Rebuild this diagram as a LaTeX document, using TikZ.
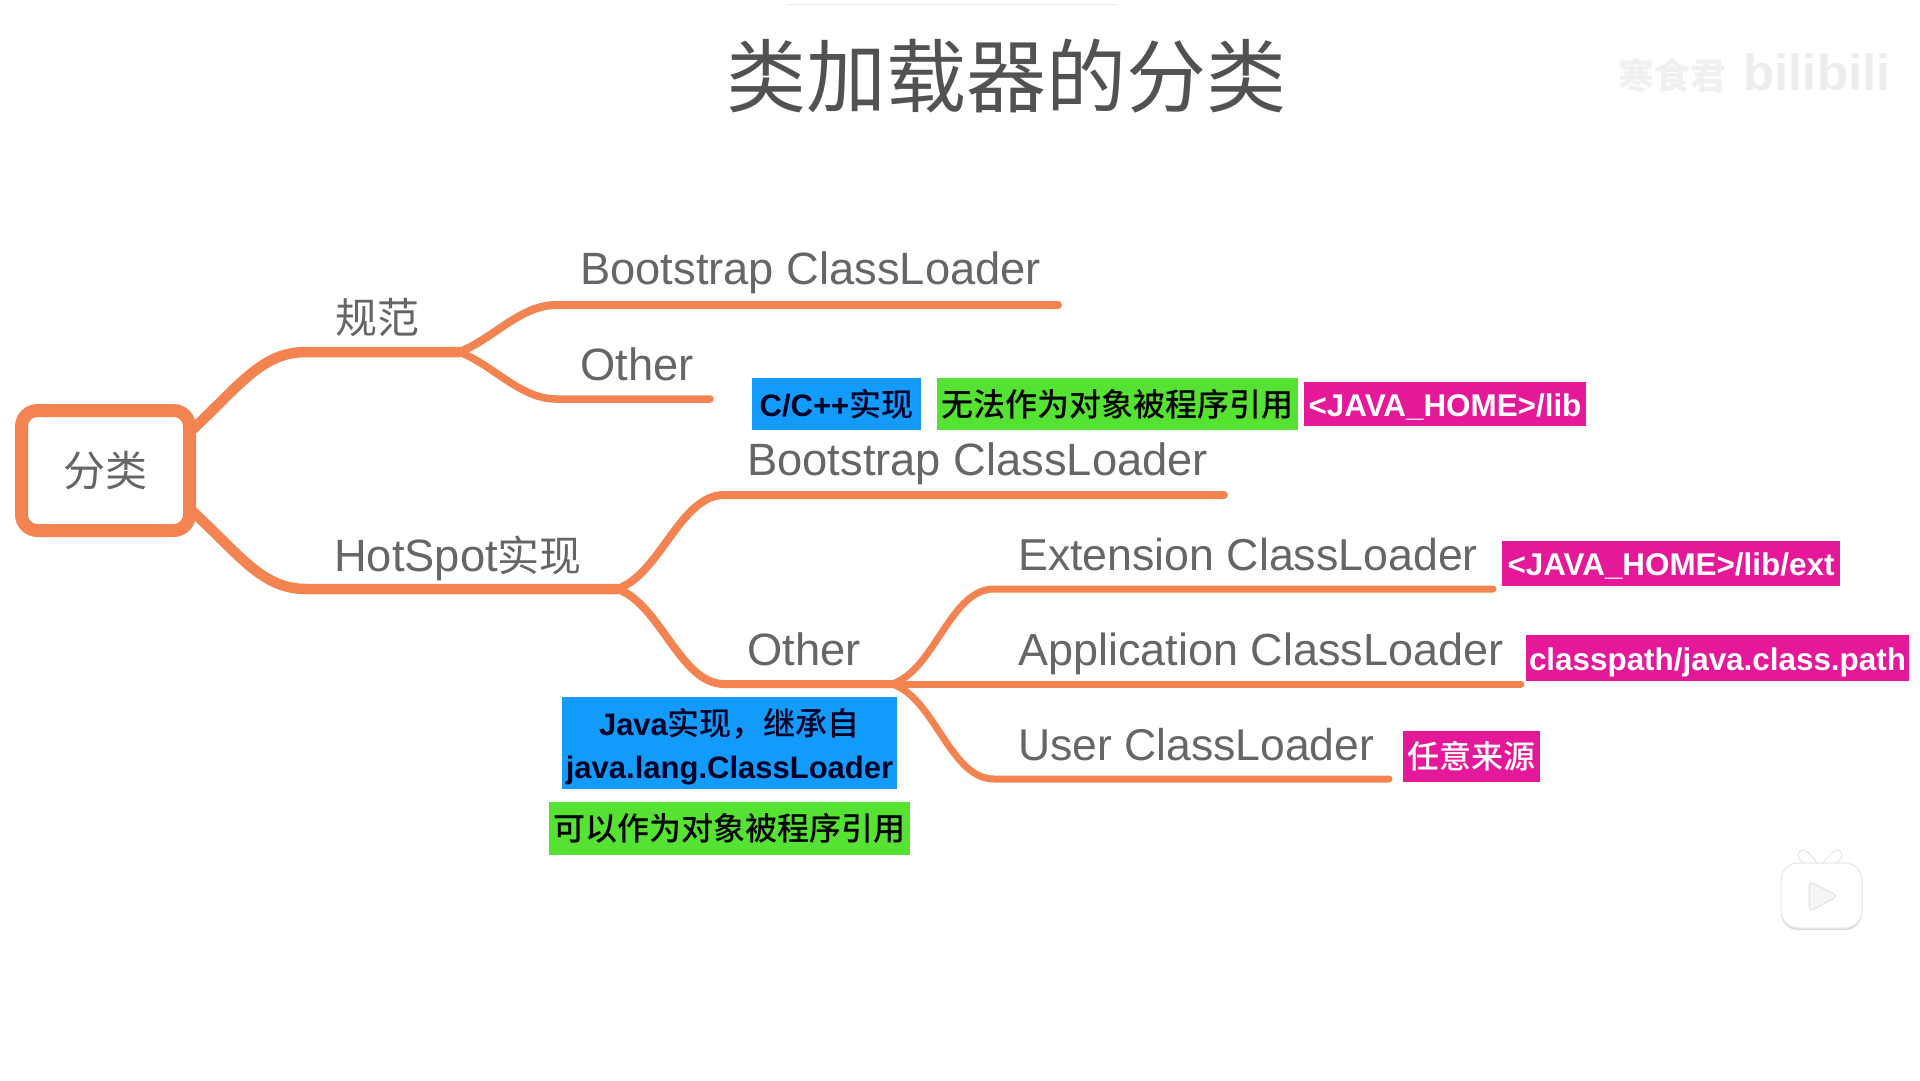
\documentclass[tikz,border=0pt]{standalone}
\usepackage{fontspec}
\setmainfont{Liberation Sans}
\newfontfamily\cjk{Noto Sans CJK SC}
\newfontfamily\cjkmed{Noto Sans CJK SC Medium}
\usetikzlibrary{shadows}
\newcommand{\cn}[1]{{\fontsize{32}{43}\selectfont\cjkmed\mdseries #1}}
\newcommand{\cnlabel}[1]{{\fontsize{42}{50}\selectfont\cjk #1}}
\definecolor{branchorange}{HTML}{F38452}
\definecolor{labelgray}{HTML}{666666}
\definecolor{tagblue}{HTML}{129BFA}
\definecolor{taggreen}{HTML}{55E232}
\definecolor{tagpink}{HTML}{E6189A}
\tikzset{
  branch/.style={draw=branchorange,line width=#1,line cap=round,line join=round},
  label/.style={anchor=base west,inner sep=0pt,text=labelgray,font=\fontsize{45.3}{50}\selectfont},
  tag/.style={inner sep=0pt,align=center,font=\fontsize{31}{43}\selectfont\bfseries},
  bluetag/.style={tag,fill=tagblue,text=black!85!blue},
  greentag/.style={tag,fill=taggreen,text=black},
  pinktag/.style={tag,fill=tagpink,text=white,font=\fontsize{31.4}{43}\selectfont\bfseries},
  lowtext/.style={text height=28pt,text depth=4pt},
}
\begin{document}
\begin{tikzpicture}[x=1pt,y=-1pt]
  \useasboundingbox (0,0) rectangle (1920,1080);
  % top bar and title
  \node (topbar) at (952,0) [minimum width=330pt,minimum height=8pt,inner sep=0pt,fill=white,drop shadow={opacity=0.15,shadow xshift=0pt,shadow yshift=-1pt}] {};
  \node (title) at (1006,76) [text=black!68,font=\fontsize{80}{90}\selectfont\cjk] {类加载器的分类};
  \node (author) at (1672,76) [text=black!6,font=\fontsize{36}{40}\selectfont\cjk\bfseries] {寒食君};
  \node (bili) at (1817,72) [text=black!7,font=\fontsize{51}{56}\selectfont\bfseries] {bilibili};
  % root
  \node (root) at (105.5,470.5) [draw=branchorange,line width=13pt,rounded corners=16pt,minimum width=168pt,minimum height=120pt,inner sep=0pt,text=labelgray,font=\fontsize{42}{48}\selectfont\cjk] {分类};
  \coordinate (rootUp) at (192,430);
  \coordinate (rootDown) at (192,511);
  \coordinate (spec) at (306,352);
  \coordinate (specFork) at (459,352);
  \coordinate (hot) at (306,589);
  \coordinate (hotFork) at (617,589);
  \coordinate (specBoot) at (556,305);
  \coordinate (specBootEnd) at (1058,305);
  \coordinate (specOther) at (556,399);
  \coordinate (specOtherEnd) at (710,399);
  \coordinate (hotBoot) at (724,495);
  \coordinate (hotBootEnd) at (1224,495);
  \coordinate (hotOther) at (724,684);
  \coordinate (otherFork) at (892,684);
  \coordinate (extLine) at (994,589);
  \coordinate (extEnd) at (1493,589);
  \coordinate (appEnd) at (1521,684);
  \coordinate (userLine) at (994,779);
  \coordinate (userEnd) at (1389,779);
  % branches
  \draw[branch=10.5pt] (rootUp) .. controls (240,385) and (262,352) .. (spec) -- (specFork);
  \draw[branch=10.5pt] (rootDown) .. controls (240,555) and (262,589) .. (hot) -- (hotFork);
  \draw[branch=8pt] (specFork) .. controls (492,340) and (520,305) .. (specBoot) -- (specBootEnd);
  \draw[branch=7.5pt] (specFork) .. controls (492,364) and (520,399) .. (specOther) -- (specOtherEnd);
  \draw[branch=8pt] (hotFork) .. controls (660,575) and (680,495) .. (hotBoot) -- (hotBootEnd);
  \draw[branch=8pt] (hotFork) .. controls (660,603) and (680,684) .. (hotOther) -- (otherFork);
  \draw[branch=7pt] (otherFork) .. controls (935,670) and (950,589) .. (extLine) -- (extEnd);
  \draw[branch=7pt] (otherFork) -- (appEnd);
  \draw[branch=7pt] (otherFork) .. controls (935,698) and (950,779) .. (userLine) -- (userEnd);
  % labels
  \node (specLabel) at (335,333) [label] {\cnlabel{规范}};
  \node (hotLabel) at (334,571) [label] {HotSpot\cnlabel{实现}};
  \node (bootA) at (580,284) [label] {Bootstrap ClassLoader};
  \node (otherA) at (580,380) [label] {Other};
  \node (bootB) at (747,475) [label] {Bootstrap ClassLoader};
  \node (otherB) at (747,665) [label] {Other};
  \node (extLabel) at (1018,570) [label,font=\fontsize{44.7}{50}\selectfont] {Extension ClassLoader};
  \node (appLabel) at (1018,665) [label,font=\fontsize{45}{50}\selectfont] {Application ClassLoader};
  \node (userLabel) at (1018,760) [label,font=\fontsize{44.5}{50}\selectfont] {User ClassLoader};
  % tags
  \node (cTag) at (836.5,404) [bluetag,lowtext,minimum width=169pt,minimum height=52pt] {C/C++\cn{实现}};
  \node (noRef) at (1117.5,404) [greentag,lowtext,minimum width=361pt,minimum height=52pt] {\cn{无法作为对象被程序引用}};
  \node (libTag) at (1445,404) [pinktag,lowtext,minimum width=282pt,minimum height=44pt] {<JAVA\_HOME>/lib};
  \node (extTag) at (1671,563) [pinktag,lowtext,minimum width=338pt,minimum height=45pt] {<JAVA\_HOME>/lib/ext};
  \node (pathTag) at (1717.5,658) [pinktag,lowtext,minimum width=383pt,minimum height=46pt] {classpath/java.class.path};
  \node (anyTag) at (1471.5,756.5) [pinktag,lowtext,minimum width=137pt,minimum height=51pt] {\cn{任意来源}};
  \node (javaTag) at (729.5,743) [bluetag,minimum width=335pt,minimum height=92pt] {\rule{0pt}{34pt}Java\cn{实现，继承自}\\java.lang.ClassLoader};
  \node (canRef) at (729.5,828.5) [greentag,lowtext,minimum width=361pt,minimum height=53pt] {\cn{可以作为对象被程序引用}};
  % play button
  \draw[line width=11pt,line cap=round,black!12] (1803,855) -- (1812,864) (1837,855) -- (1828,864);
  \draw[line width=9pt,line cap=round,white] (1803,855) -- (1812,864) (1837,855) -- (1828,864);
  \node (playBox) at (1821.5,895.5) [fill=white,draw=black!10,line width=1pt,rounded corners=17pt,minimum width=81pt,minimum height=65pt,inner sep=0pt,drop shadow={opacity=0.3,shadow xshift=0pt,shadow yshift=-2pt}] {};
  \draw[rounded corners=5pt,fill=black!4,draw=black!12,line width=1pt] (1809,881) -- (1838,896) -- (1809,912) -- cycle;
\end{tikzpicture}
\end{document}
